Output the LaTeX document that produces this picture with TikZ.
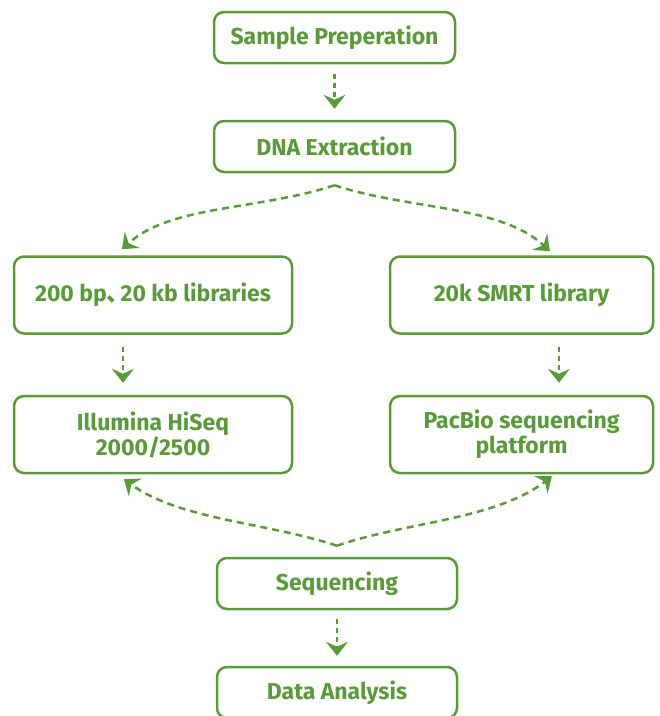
\documentclass[tikz,border=0pt]{standalone}
\usepackage{fontspec}
\setmainfont{Fira Sans}
\newfontfamily\cjkfont{Noto Sans CJK SC}
\usepackage{tikz}
\usetikzlibrary{arrows.meta,positioning,calc}
\definecolor{leafgreen}{HTML}{5B9A3A}

\begin{document}
\begin{tikzpicture}[x=1pt, y=-1pt,
    stepbox/.style={draw=leafgreen, rounded corners=10pt, line width=2.5pt, fill=white, text=leafgreen, font=\fontsize{23}{25}\selectfont\bfseries, align=center, inner sep=0pt},
    flow/.style={draw=leafgreen, line width=2.5pt, dash pattern=on 5pt off 4pt, -{Stealth[length=14pt, width=22pt, inset=5pt, fill=leafgreen]}},
    branch/.style={flow, dash pattern=on 7pt off 5pt}
]
    \useasboundingbox (0,0) rectangle (660,716);

    % Preparation steps (top)
    \node[stepbox, minimum width=241pt, minimum height=51pt] (sample) at (334.5,37.5) {Sample Preperation};
    \node[stepbox, minimum width=241pt, minimum height=51pt] (dna) at (334.5,146.5) {DNA Extraction};

    % Library construction (two branches)
    \node[stepbox, minimum width=278pt, minimum height=77pt] (lib) at (153,295) {200 bp{\cjkfont 、}\kern-0.4em 20 kb libraries};
    \node[stepbox, minimum width=263pt, minimum height=77pt] (smrt) at (521.5,295) {20k SMRT library};

    % Platforms
    \node[stepbox, minimum width=278pt, minimum height=77pt] (illumina) at (153,434.5) {Illumina HiSeq\\2000/2500};
    \node[stepbox, minimum width=263pt, minimum height=77pt] (pacbio) at (521.5,434.5) {PacBio sequencing\\platform};

    % Final steps (bottom)
    \node[stepbox, minimum width=240pt, minimum height=51pt] (seq) at (337,583.5) {Sequencing};
    \node[stepbox, minimum width=240pt, minimum height=51pt] (data) at (337,692.5) {Data Analysis};

    % Straight arrows
    \draw[flow] ([yshift=-10pt]sample.south) -- ([yshift=11pt]dna.north);
    \draw[flow] ([shift={(-30pt,-12pt)}]lib.south) -- ([shift={(-30pt,12pt)}]illumina.north);
    \draw[flow] ([shift={(37.5pt,-12pt)}]smrt.south) -- ([shift={(37.5pt,12pt)}]pacbio.north);
    \draw[flow] ([yshift=-9pt]seq.south) -- ([yshift=10pt]data.north);

    % Split after extraction
    \coordinate (split) at ([yshift=-12pt]dna.south);
    \draw[branch] (split) .. controls (260,210) and (170,205) .. ([shift={(-31pt,6pt)}]lib.north);
    \draw[branch] (split) .. controls (410,210) and (500,205) .. ([shift={(28.5pt,4pt)}]smrt.north);

    % Merge into sequencing
    \coordinate (merge) at ([yshift=11pt]seq.north);
    \draw[branch] (merge) .. controls (265,522) and (180,520) .. ([shift={(-29pt,-5pt)}]illumina.south);
    \draw[branch] (merge) .. controls (405,522) and (495,520) .. ([shift={(30.5pt,-2pt)}]pacbio.south);

\end{tikzpicture}
\end{document}
